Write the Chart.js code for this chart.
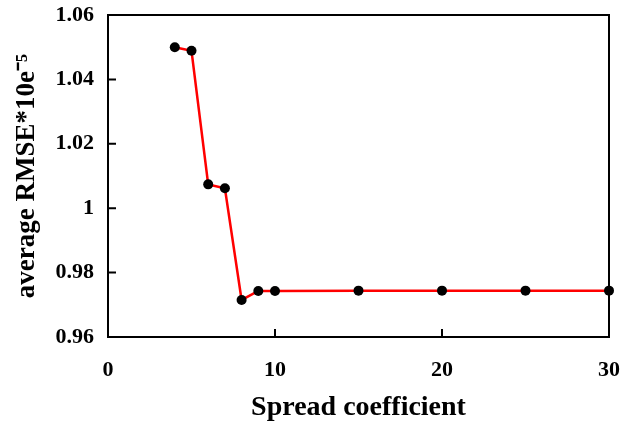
<!DOCTYPE html>
<html>
<head>
<meta charset="utf-8">
<script src="https://cdn.jsdelivr.net/npm/chart.js@4/dist/chart.umd.min.js"></script>
<style>
html,body{margin:0;padding:0;background:#fff;}
#wrap{width:632px;height:427px;position:relative;}
</style>
</head>
<body>
<div id="wrap"><canvas id="c" width="632" height="427"></canvas></div>
<script>
const spreadCoefficient = [4, 5, 6, 7, 8, 9, 10, 15, 20, 25, 30];
const averageRMSE = [1.0500, 1.0489, 1.0074, 1.0062, 0.9715, 0.9743, 0.9743, 0.9744, 0.9744, 0.9744, 0.9744];
const xTicks = [0, 10, 20, 30];
const yTicks = [0.96, 0.98, 1.00, 1.02, 1.04, 1.06];

const frame = {
  id: 'frame',
  afterDatasetsDraw(chart) {
    const {ctx, chartArea: a, scales} = chart;
    ctx.save();
    ctx.strokeStyle = '#000';
    ctx.lineWidth = 2;
    ctx.strokeRect(a.left, a.top, a.right - a.left, a.bottom - a.top);
    ctx.beginPath();
    xTicks.forEach(v => {
      const x = scales.x.getPixelForValue(v);
      ctx.moveTo(x, a.bottom); ctx.lineTo(x, a.bottom - 8);
    });
    yTicks.forEach(v => {
      const y = scales.y.getPixelForValue(v);
      ctx.moveTo(a.left, y); ctx.lineTo(a.left + 8, y);
    });
    ctx.stroke();
    ctx.restore();
  }
};

const font = {family: '"Liberation Serif", "Times New Roman", serif', weight: 'bold'};

new Chart(document.getElementById('c'), {
  type: 'scatter',
  data: {
    datasets: [{
      data: spreadCoefficient.map((x, i) => ({x, y: averageRMSE[i]})),
      showLine: true,
      borderColor: '#ff0000',
      borderWidth: 2.5,
      pointBackgroundColor: '#000',
      pointBorderColor: '#000',
      pointRadius: 5,
      pointBorderWidth: 0,
      clip: false
    }]
  },
  options: {
    responsive: false,
    animation: false,
    devicePixelRatio: 1,
    layout: {padding: {top: 15, right: 23, left: 0, bottom: 0}},
    plugins: {legend: {display: false}, tooltip: {enabled: false}},
    scales: {
      x: {
        type: 'linear', min: 0, max: 30,
        afterBuildTicks: s => { s.ticks = xTicks.map(v => ({value: v})); },
        afterFit: s => { s.height = 90; s.paddingLeft = 0; s.paddingRight = 0; },
        grid: {display: false, drawTicks: false},
        border: {display: false},
        ticks: {color: '#000', font: {...font, size: 22}, padding: 20},
        title: {display: true, text: 'Spread coefficient', color: '#000', font: {...font, size: 28}, padding: {top: 0, bottom: 2}}
      },
      y: {
        type: 'linear', min: 0.96, max: 1.06,
        afterBuildTicks: s => { s.ticks = yTicks.map(v => ({value: v})); },
        afterFit: s => { s.width = 108; s.paddingTop = 0; s.paddingBottom = 0; },
        grid: {display: false, drawTicks: false},
        border: {display: false},
        ticks: {color: '#000', font: {...font, size: 22}, padding: 14, callback: v => String(Math.round(v * 100) / 100)},
        title: {display: true, text: 'average RMSE*10e\u207B\u2075', color: '#000', font: {...font, size: 27}, padding: {top: 11, bottom: 0}}
      }
    }
  },
  plugins: [frame]
});
</script>
</body>
</html>
